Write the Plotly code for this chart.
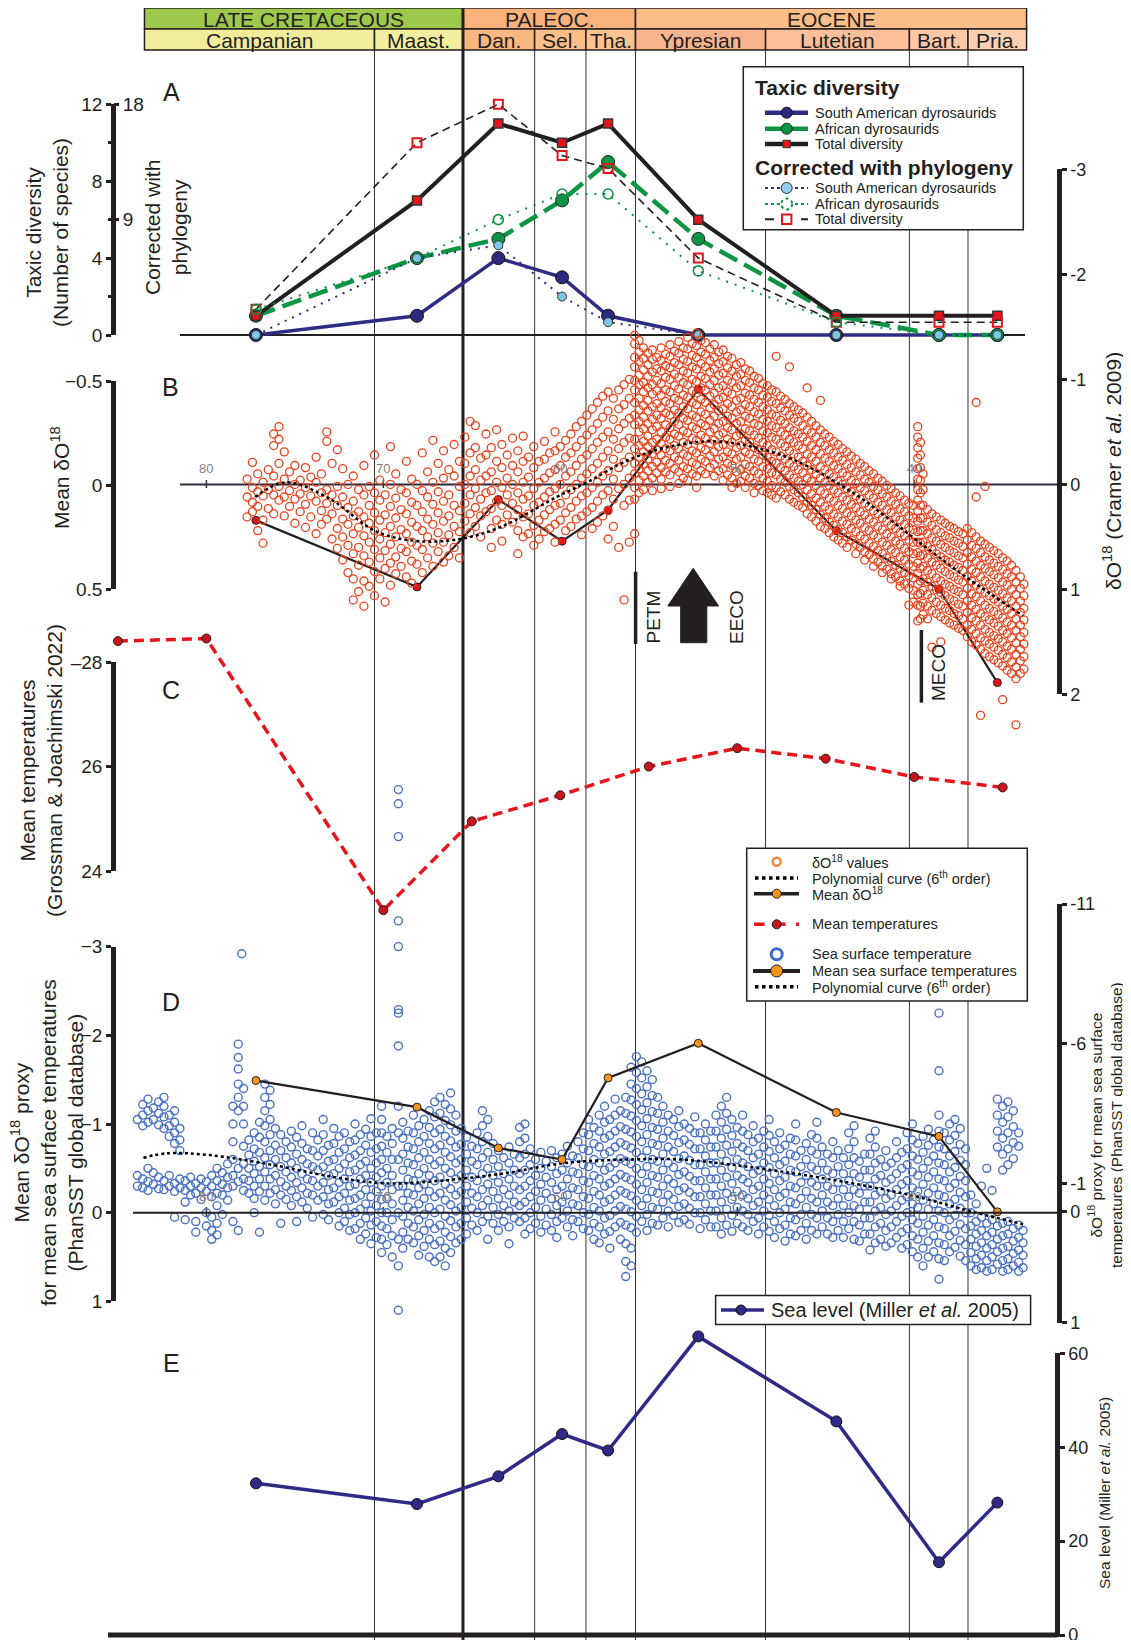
import plotly.graph_objects as go

W, H = 1131, 1640
OX, OY = 8, 8          # page (body) offset of the figure in the browser
FONT = "Liberation Sans, Arial, Helvetica, sans-serif"
INK = "#231f20"

# ---------------- chronostratigraphy (Ma) ----------------
epoch_names = ["LATE CRETACEOUS", "PALEOC.", "EOCENE"]
epoch_bounds = [83.5, 65.5, 55.75, 33.65]
epoch_colors = ["#9dc84c", "#fab27b", "#fcbe88"]
stage_names = ["Campanian", "Maast.", "Dan.", "Sel.", "Tha.", "Ypresian", "Lutetian", "Bart.", "Pria."]
stage_bounds = [83.5, 70.5, 65.5, 61.45, 58.55, 55.75, 48.4, 40.27, 36.96, 33.65]
stage_colors = ["#f2ed9a", "#f3ee9e", "#fbb780", "#fcbf89", "#fdc48f", "#f9b38d", "#fbbf9c", "#fcc8a6", "#fdd0b1"]
xaxis_ticks = [80, 70, 60, 50, 40]

# ---------------- A: taxic diversity ----------------
stage_age = [77.2, 68.1, 63.5, 59.9, 57.3, 52.2, 44.4, 38.6, 35.3]
sa_div = [0, 1, 4, 3, 1, 0, 0, 0, 0]
af_div = [1, 4, 5, 7, 9, 5, 1, 0, 0]
tot_div = [1, 7, 11, 10, 11, 6, 1, 1, 1]
sa_cor = [0, 6, 7, 3, 1, 0, 0, 0, 0]
af_cor = [2, 6, 9, 11, 11, 5, 1, 0, 0]
tot_cor = [2, 15, 18, 14, 13, 6, 1, 1, 1]

# ---------------- B: d18O (Cramer et al. 2009), columns (age, values) ----------------
b_cret = [
    (77.7, [-0.05, 0.12, 0.31]), (77.4, [-0.21, 0.03, 0.17, 0.26]), (77.1, [-0.1, 0.07, 0.21, 0.44]),
    (76.8, [-0.02, 0.11, 0.34, 0.56]), (76.5, [-0.14, 0.05, 0.23]), (76.2, [-0.48, -0.37, -0.08, 0.1, 0.28]),
    (75.9, [-0.55, -0.43, -0.2, 0.02, 0.15]), (75.6, [-0.31, -0.05, 0.12, 0.3]), (75.3, [-0.12, 0.06, 0.21]),
    (75.0, [-0.18, 0.0, 0.14, 0.37]), (74.7, [-0.04, 0.09, 0.26]), (74.4, [-0.16, 0.03, 0.19, 0.41]),
    (74.1, [-0.07, 0.11, 0.31]), (73.8, [-0.26, -0.02, 0.16, 0.47]), (73.5, [-0.1, 0.08, 0.25, 0.38]),
    (73.2, [-0.5, -0.41, 0.05, 0.18, 0.33]), (72.9, [-0.2, 0.1, 0.28, 0.52]), (72.6, [-0.33, 0.02, 0.2, 0.42, 0.61]),
    (72.3, [-0.15, 0.12, 0.33, 0.5, 0.72]), (72.0, [0.0, 0.22, 0.38, 0.58, 0.84]),
    (71.7, [-0.08, 0.16, 0.3, 0.47, 0.66, 0.9, 1.1]), (71.4, [0.05, 0.26, 0.41, 0.6, 0.77, 1.02]),
    (71.1, [-0.18, 0.1, 0.31, 0.49, 0.68, 0.92, 1.16]), (70.8, [0.02, 0.2, 0.37, 0.55, 0.74, 0.97]),
    (70.5, [-0.28, 0.08, 0.27, 0.44, 0.62, 0.83, 1.06]), (70.2, [-0.04, 0.15, 0.34, 0.52, 0.7, 0.9]),
    (69.9, [0.1, 0.29, 0.46, 0.63, 0.8, 1.12]), (69.6, [-0.36, 0.0, 0.21, 0.4, 0.57, 0.75, 0.96]),
    (69.3, [-0.1, 0.13, 0.32, 0.5, 0.69, 0.85]), (69.0, [0.05, 0.24, 0.43, 0.61, 0.78]),
    (68.7, [-0.22, 0.08, 0.28, 0.47, 0.64, 0.88]), (68.4, [-0.05, 0.17, 0.36, 0.55, 0.73, 0.94]),
    (68.1, [0.0, 0.2, 0.4, 0.58, 0.76]), (67.8, [-0.3, 0.06, 0.26, 0.44, 0.62, 0.84]),
    (67.5, [-0.12, 0.12, 0.33, 0.5, 0.7]), (67.2, [-0.42, -0.02, 0.19, 0.38, 0.56, 0.78]),
    (66.9, [-0.2, 0.07, 0.27, 0.46, 0.64]), (66.6, [-0.32, -0.06, 0.16, 0.35, 0.55, 0.74]),
    (66.3, [-0.14, 0.1, 0.3, 0.48, 0.68]), (66.0, [-0.38, -0.08, 0.2, 0.4, 0.6]),
    (65.7, [-0.22, 0.02, 0.25, 0.45, 0.7]),
]
b_paleo = [
    (65.4, [-0.45, -0.2, 0.0, 0.18, 0.35]), (65.1, [-0.6, -0.3, -0.08, 0.1, 0.28, 0.46]),
    (64.8, [-0.56, -0.35, -0.14, 0.04, 0.22, 0.4]), (64.5, [-0.25, -0.04, 0.14, 0.3, 0.5]),
    (64.2, [-0.48, -0.28, -0.08, 0.08, 0.26]), (63.9, [-0.35, -0.12, 0.06, 0.23, 0.42, 0.6]),
    (63.6, [-0.52, -0.22, -0.02, 0.16, 0.34]), (63.3, [-0.38, -0.16, 0.03, 0.2, 0.38, 0.54]),
    (63.0, [-0.28, -0.06, 0.1, 0.29]), (62.7, [-0.44, -0.18, 0.0, 0.18, 0.36]),
    (62.4, [-0.32, -0.12, 0.08, 0.24, 0.44, 0.66]), (62.1, [-0.46, -0.22, -0.02, 0.14, 0.31, 0.5]),
    (61.8, [-0.26, -0.07, 0.11, 0.28, 0.47]), (61.5, [-0.36, -0.16, 0.04, 0.2, 0.39, 0.58]),
    (61.2, [-0.22, -0.02, 0.17, 0.34, 0.52]), (60.9, [-0.41, -0.24, -0.06, 0.12, 0.29, 0.45]),
    (60.6, [-0.3, -0.11, 0.07, 0.24, 0.42]), (60.3, [-0.5, -0.32, -0.14, 0.04, 0.2, 0.38, 0.55]),
    (60.0, [-0.36, -0.18, 0.0, 0.18, 0.34]), (59.7, [-0.42, -0.26, -0.08, 0.1, 0.27, 0.44]),
    (59.4, [-0.48, -0.3, -0.12, 0.05, 0.22, 0.4]), (59.1, [-0.55, -0.36, -0.18, 0.0, 0.16, 0.33]),
    (58.8, [-0.6, -0.42, -0.24, -0.06, 0.11, 0.3, 0.48]), (58.5, [-0.66, -0.47, -0.28, -0.1, 0.08, 0.26]),
    (58.2, [-0.72, -0.52, -0.34, -0.15, 0.03, 0.22, 0.42]), (57.9, [-0.78, -0.58, -0.4, -0.2, -0.02, 0.16, 0.36]),
    (57.6, [-0.84, -0.64, -0.45, -0.26, -0.08, 0.1, 0.3]), (57.3, [-0.88, -0.7, -0.5, -0.32, -0.13, 0.06, 0.25, 0.52]),
    (57.0, [-0.82, -0.62, -0.43, -0.24, -0.05, 0.14, 0.4]), (56.7, [-0.9, -0.72, -0.53, -0.34, -0.16, 0.04, 0.6]),
    (56.4, [-0.95, -0.76, -0.58, -0.4, -0.21, 0.0, 0.2, 1.1]), (56.1, [-1.0, -0.82, -0.63, -0.44, -0.26, -0.06, 0.15, 0.55]),
]
b_eoc_early = [
    (55.80, [-1.42, -1.34, -1.21, -1.12, -0.99, -0.9, -0.78, -0.66, -0.57, -0.43, -0.34, -0.2, -0.1, 0.03, 0.14, 0.47]),
    (55.55, [-1.37, -1.26, -1.17, -1.04, -0.95, -0.82, -0.71, -0.6, -0.5, -0.37, -0.26, -0.15, -0.04, 0.08]),
    (55.30, [-1.3, -1.2, -1.09, -0.97, -0.88, -0.75, -0.64, -0.53, -0.41, -0.31, -0.19, -0.08, 0.05]),
    (55.05, [-1.25, -1.14, -1.03, -0.92, -0.8, -0.7, -0.58, -0.46, -0.36, -0.24, -0.13, -0.02]),
    (54.80, [-1.28, -1.19, -1.07, -0.95, -0.86, -0.74, -0.62, -0.52, -0.4, -0.29, -0.17, -0.06, 0.06]),
    (54.55, [-1.21, -1.1, -0.99, -0.89, -0.77, -0.66, -0.55, -0.43, -0.33, -0.21, -0.11]),
    (54.30, [-1.3, -1.18, -1.08, -0.96, -0.85, -0.73, -0.63, -0.5, -0.39, -0.28, -0.16, -0.05, 0.04]),
    (54.05, [-1.24, -1.13, -1.02, -0.9, -0.79, -0.68, -0.57, -0.45, -0.34, -0.23, -0.12]),
    (53.80, [-1.33, -1.22, -1.11, -1.0, -0.88, -0.77, -0.66, -0.54, -0.43, -0.32, -0.2, -0.09, 0.02]),
    (53.55, [-1.27, -1.16, -1.05, -0.94, -0.82, -0.71, -0.6, -0.48, -0.37, -0.26, -0.15]),
    (53.30, [-1.36, -1.25, -1.14, -1.02, -0.91, -0.8, -0.68, -0.57, -0.46, -0.34, -0.23, -0.12, -0.01]),
    (53.05, [-1.3, -1.19, -1.08, -0.97, -0.85, -0.74, -0.63, -0.51, -0.4, -0.29, -0.17, -0.06]),
    (52.80, [-1.4, -1.29, -1.17, -1.06, -0.95, -0.83, -0.72, -0.61, -0.49, -0.38, -0.27, -0.15, -0.04]),
    (52.55, [-1.34, -1.23, -1.12, -1.0, -0.89, -0.78, -0.66, -0.55, -0.44, -0.32, -0.21, -0.1]),
    (52.30, [-1.44, -1.32, -1.21, -1.1, -0.98, -0.87, -0.76, -0.64, -0.53, -0.42, -0.3, -0.19, -0.08, 0.03]),
    (52.05, [-1.37, -1.26, -1.15, -1.03, -0.92, -0.81, -0.69, -0.58, -0.47, -0.35, -0.24, -0.13]),
    (51.80, [-1.35, -1.24, -1.12, -1.01, -0.9, -0.78, -0.67, -0.56, -0.44, -0.33, -0.22, -0.1]),
    (51.55, [-1.29, -1.18, -1.07, -0.95, -0.84, -0.73, -0.61, -0.5, -0.39, -0.27, -0.16]),
    (51.30, [-1.33, -1.21, -1.1, -0.99, -0.87, -0.76, -0.65, -0.53, -0.42, -0.31, -0.19, -0.08]),
    (51.05, [-1.26, -1.15, -1.04, -0.92, -0.81, -0.7, -0.58, -0.47, -0.36, -0.24, -0.13]),
    (50.80, [-1.28, -1.17, -1.06, -0.94, -0.83, -0.72, -0.6, -0.49, -0.38, -0.26, -0.15, -0.04]),
    (50.55, [-1.22, -1.11, -0.99, -0.88, -0.77, -0.65, -0.54, -0.43, -0.31, -0.2, -0.09]),
    (50.30, [-1.2, -1.08, -0.97, -0.86, -0.74, -0.63, -0.52, -0.4, -0.29, -0.18, -0.06, 0.03]),
    (50.05, [-1.14, -1.03, -0.92, -0.8, -0.69, -0.58, -0.46, -0.35, -0.24, -0.12, -0.01]),
    (49.80, [-1.16, -1.05, -0.94, -0.82, -0.71, -0.6, -0.48, -0.37, -0.26, -0.14, -0.03]),
    (49.55, [-1.1, -0.99, -0.87, -0.76, -0.65, -0.53, -0.42, -0.31, -0.19, -0.08, 0.03]),
    (49.30, [-1.08, -0.97, -0.85, -0.74, -0.63, -0.51, -0.4, -0.29, -0.17, -0.06]),
    (49.05, [-1.03, -0.92, -0.81, -0.69, -0.58, -0.47, -0.35, -0.24, -0.13, -0.01, 0.08]),
    (48.80, [-1.01, -0.9, -0.78, -0.67, -0.56, -0.44, -0.33, -0.22, -0.1, 0.01]),
    (48.55, [-0.96, -0.85, -0.74, -0.62, -0.51, -0.4, -0.28, -0.17, -0.06, 0.06]),
    (48.30, [-0.94, -0.83, -0.71, -0.6, -0.49, -0.37, -0.26, -0.15, -0.03, 0.08]),
    (48.05, [-0.9, -0.79, -0.67, -0.56, -0.45, -0.33, -0.22, -0.11, 0.01, 0.1]),
    (47.80, [-1.22, -0.88, -0.77, -0.65, -0.54, -0.43, -0.31, -0.2, -0.09, 0.03, 0.13]),
    (47.55, [-0.84, -0.73, -0.61, -0.5, -0.39, -0.27, -0.16, -0.05, 0.07]),
    (47.30, [-0.81, -0.7, -0.58, -0.47, -0.36, -0.24, -0.13, -0.02, 0.1]),
    (47.05, [-1.12, -0.77, -0.66, -0.54, -0.43, -0.32, -0.2, -0.09, 0.02, 0.14]),
    (46.80, [-0.74, -0.63, -0.51, -0.4, -0.29, -0.17, -0.06, 0.05, 0.17]),
    (46.55, [-0.71, -0.6, -0.48, -0.37, -0.26, -0.14, -0.03, 0.08, 0.2]),
    (46.30, [-0.68, -0.56, -0.45, -0.34, -0.22, -0.11, 0.0, 0.12, 0.22]),
]
b_eoc_late = [
    (46.05, [-0.92, -0.64, -0.52, -0.41, -0.29, -0.18, -0.06, 0.05, 0.17, 0.28]),
    (45.80, [-0.6, -0.49, -0.37, -0.26, -0.14, -0.03, 0.09, 0.2, 0.31]),
    (45.55, [-0.56, -0.45, -0.33, -0.22, -0.1, 0.01, 0.13, 0.24, 0.35]),
    (45.30, [-0.8, -0.52, -0.4, -0.29, -0.17, -0.06, 0.06, 0.17, 0.29, 0.4]),
    (45.05, [-0.48, -0.37, -0.25, -0.14, -0.02, 0.09, 0.21, 0.32, 0.42]),
    (44.80, [-0.45, -0.33, -0.22, -0.1, 0.01, 0.13, 0.24, 0.36, 0.46]),
    (44.55, [-0.41, -0.3, -0.18, -0.07, 0.05, 0.16, 0.28, 0.39, 0.5]),
    (44.30, [-0.38, -0.26, -0.15, -0.03, 0.08, 0.2, 0.31, 0.43, 0.53]),
    (44.05, [-0.34, -0.23, -0.11, 0.0, 0.12, 0.23, 0.35, 0.46, 0.56]),
    (43.80, [-0.31, -0.19, -0.08, 0.04, 0.15, 0.27, 0.38, 0.5, 0.6]),
    (43.55, [-0.27, -0.16, -0.04, 0.07, 0.19, 0.3, 0.42, 0.53]),
    (43.30, [-0.24, -0.12, -0.01, 0.11, 0.22, 0.34, 0.45, 0.57, 0.66]),
    (43.05, [-0.2, -0.09, 0.03, 0.14, 0.26, 0.37, 0.49, 0.6]),
    (42.80, [-0.17, -0.05, 0.06, 0.18, 0.29, 0.41, 0.52, 0.64, 0.72]),
    (42.55, [-0.13, -0.02, 0.1, 0.21, 0.33, 0.44, 0.56, 0.67]),
    (42.30, [-0.1, 0.02, 0.13, 0.25, 0.36, 0.48, 0.59, 0.71, 0.78]),
    (42.05, [-0.06, 0.05, 0.17, 0.28, 0.4, 0.51, 0.63, 0.74]),
    (41.80, [-0.03, 0.09, 0.2, 0.32, 0.43, 0.55, 0.66, 0.78, 0.84]),
    (41.55, [0.01, 0.12, 0.24, 0.35, 0.47, 0.58, 0.7, 0.81]),
    (41.30, [0.04, 0.16, 0.27, 0.39, 0.5, 0.62, 0.73, 0.85, 0.9]),
    (41.05, [0.08, 0.19, 0.31, 0.42, 0.54, 0.65, 0.77, 0.88]),
    (40.80, [0.11, 0.23, 0.34, 0.46, 0.57, 0.69, 0.8, 0.92, 0.97]),
    (40.55, [0.15, 0.26, 0.38, 0.49, 0.61, 0.72, 0.84, 0.95]),
    (40.30, [0.18, 0.3, 0.41, 0.53, 0.64, 0.76, 0.87, 0.99, 1.15]),
    (40.05, [0.2, 0.32, 0.43, 0.55, 0.66, 0.78, 0.89, 1.01, 1.12]),
    (39.80, [-0.55, -0.45, -0.35, -0.25, -0.15, -0.05, 0.05, 0.15, 0.25, 0.35, 0.45, 0.55, 0.65, 0.75, 0.85, 0.95, 1.05, 1.15, 1.3]),
    (39.65, [-0.4, -0.28, -0.16, -0.04, 0.08, 0.2, 0.32, 0.44, 0.56, 0.68, 0.8, 0.92, 1.04, 1.16, 1.28]),
    (39.50, [-0.1, 0.05, 0.2, 0.32, 0.44, 0.55, 0.67, 0.78, 0.9, 1.01, 1.13, 1.24]),
    (39.25, [0.24, 0.36, 0.47, 0.59, 0.7, 0.82, 0.93, 1.05, 1.16, 1.28]),
    (39.00, [0.28, 0.39, 0.51, 0.62, 0.74, 0.85, 0.97, 1.08, 1.2, 1.55]),
    (38.75, [0.31, 0.43, 0.54, 0.66, 0.77, 0.89, 1.0, 1.12, 1.23]),
    (38.50, [0.34, 0.46, 0.57, 0.69, 0.8, 0.92, 1.03, 1.15, 1.26, 1.5]),
    (38.25, [0.37, 0.49, 0.6, 0.72, 0.83, 0.95, 1.06, 1.18, 1.29]),
    (38.00, [0.4, 0.51, 0.63, 0.74, 0.86, 0.97, 1.09, 1.2, 1.32]),
    (37.75, [0.42, 0.54, 0.65, 0.77, 0.88, 1.0, 1.11, 1.23, 1.34]),
    (37.50, [0.45, 0.56, 0.68, 0.79, 0.91, 1.02, 1.14, 1.25, 1.37]),
    (37.25, [0.47, 0.59, 0.7, 0.82, 0.93, 1.05, 1.16, 1.28, 1.39]),
    (37.00, [0.42, 0.53, 0.65, 0.76, 0.88, 0.99, 1.11, 1.22, 1.34, 1.45]),
    (36.75, [0.46, 0.58, 0.69, 0.81, 0.92, 1.04, 1.15, 1.27, 1.38, 1.5]),
    (36.50, [-0.78, 0.12, 0.5, 0.61, 0.73, 0.84, 0.96, 1.07, 1.19, 1.3, 1.42, 1.53]),
    (36.25, [0.54, 0.65, 0.77, 0.88, 1.0, 1.11, 1.23, 1.34, 1.46, 1.57, 2.2]),
    (36.00, [0.02, 0.57, 0.69, 0.8, 0.92, 1.03, 1.15, 1.26, 1.38, 1.49, 1.61]),
    (35.75, [0.6, 0.72, 0.83, 0.95, 1.06, 1.18, 1.29, 1.41, 1.52, 1.64]),
    (35.50, [0.63, 0.75, 0.86, 0.98, 1.09, 1.21, 1.32, 1.44, 1.55, 1.67]),
    (35.25, [0.66, 0.78, 0.89, 1.01, 1.12, 1.24, 1.35, 1.47, 1.58, 1.7]),
    (35.00, [0.7, 0.81, 0.93, 1.04, 1.16, 1.27, 1.39, 1.5, 1.62, 1.73, 2.05]),
    (34.75, [0.73, 0.85, 0.96, 1.08, 1.19, 1.31, 1.42, 1.54, 1.65, 1.77]),
    (34.50, [0.77, 0.88, 1.0, 1.11, 1.23, 1.34, 1.46, 1.57, 1.69, 1.8]),
    (34.25, [0.82, 0.93, 1.05, 1.16, 1.28, 1.39, 1.51, 1.62, 1.74, 1.85, 2.29]),
    (34.00, [0.88, 0.99, 1.11, 1.22, 1.34, 1.45, 1.57, 1.68, 1.8]),
    (33.80, [0.95, 1.06, 1.18, 1.29, 1.41, 1.52, 1.64, 1.76]),
]
b_poly_age = [77.24, 75.52, 73.1, 70.38, 68.02, 65.65, 63.29, 60.21, 58.38, 56.19, 53.83, 51.35, 49.22, 46.74, 43.37, 41.42, 39.41, 37.1, 33.85]
b_poly_val = [0.12, -0.02, 0.13, 0.45, 0.54, 0.52, 0.4, 0.12, -0.03, -0.23, -0.36, -0.41, -0.36, -0.23, 0.09, 0.33, 0.59, 0.88, 1.25]
b_mean = [0.17, 0.49, 0.07, 0.27, 0.12, -0.46, 0.22, 0.5, 0.95]

# ---------------- C: mean temperatures ----------------
c_age = [85, 80, 70, 65, 60, 55, 50, 45, 40, 35]
c_temp = [28.4, 28.45, 23.25, 24.95, 25.45, 26.0, 26.35, 26.15, 25.8, 25.6]

# ---------------- D: PhanSST d18O proxy, columns (age, values) ----------------
d_cret = [
    (83.9, [-1.05, -0.42, -0.3]), (83.6, [-1.22, -1.1, -0.98, -0.38, -0.28]),
    (83.3, [-1.28, -1.15, -1.02, -0.5, -0.35, -0.25]), (83.0, [-1.18, -1.05, -0.45, -0.32]),
    (82.7, [-1.25, -1.12, -0.99, -0.4, -0.27]), (82.4, [-1.3, -1.2, -1.08, -0.95, -0.36, -0.26]),
    (82.1, [-1.1, -0.98, -0.86, -0.42, -0.3]), (81.8, [-1.15, -1.02, -0.9, -0.78, -0.33, -0.24, 0.05]),
    (81.5, [-0.95, -0.82, -0.7, -0.38, -0.28]), (81.2, [-0.36, -0.25, -0.12, 0.08]),
    (80.9, [-0.4, -0.3, -0.2]), (80.6, [-0.33, -0.22, 0.1, 0.22]), (80.3, [-0.38, -0.28, -0.15]),
    (80.0, [-0.35, -0.24, 0.0, 0.15]), (79.7, [-0.42, -0.3, -0.18, 0.05, 0.2, 0.3]),
    (79.4, [-0.5, -0.36, -0.22, -0.08, 0.12, 0.25]), (79.1, [-0.45, -0.32, -0.2, 0.02]),
    (78.8, [-0.55, -0.4, -0.28, -0.14]), (78.5, [-1.2, -1.0, -0.8, -0.6, -0.42, -0.3, 0.1]),
    (78.2, [-1.9, -1.75, -1.62, -1.45, -1.3, -1.15, -0.5, -0.35, 0.2]), (78.0, [-2.92]),
    (77.9, [-1.4, -1.2, -1.0, -0.75, -0.55, -0.38, -0.25]), (77.6, [-0.82, -0.65, -0.5, -0.36, -0.22]),
    (77.3, [-0.9, -0.72, -0.58, -0.44, -0.3, -0.16, 0.0]), (77.0, [-1.02, -0.85, -0.68, -0.52, -0.38, -0.24, 0.22]),
    (76.7, [-1.45, -1.3, -1.15, -0.98, -0.8, -0.62, -0.46, -0.3, -0.14]),
    (76.4, [-1.38, -1.22, -1.05, -0.88, -0.7, -0.54, -0.38, -0.22]),
    (76.1, [-0.95, -0.76, -0.6, -0.42, -0.26, -0.1]), (75.8, [-0.88, -0.7, -0.52, -0.35, -0.2, 0.12]),
    (75.5, [-0.8, -0.62, -0.46, -0.3, -0.15]), (75.2, [-0.92, -0.74, -0.56, -0.4, -0.25, -0.08]),
    (74.9, [-0.85, -0.66, -0.5, -0.34, -0.18, 0.1]), (74.6, [-0.98, -0.78, -0.6, -0.44, -0.28, -0.12]),
    (74.3, [-0.72, -0.55, -0.38, -0.22, -0.05]), (74.0, [-0.9, -0.7, -0.52, -0.36, -0.2, 0.05]),
    (73.7, [-0.82, -0.64, -0.48, -0.3, -0.14]), (73.4, [-1.05, -0.88, -0.7, -0.52, -0.34, -0.18, 0.02]),
    (73.1, [-0.76, -0.58, -0.42, -0.26, -0.1, 0.08]), (72.8, [-0.95, -0.78, -0.6, -0.44, -0.28, -0.12]),
    (72.5, [-0.86, -0.68, -0.5, -0.34, -0.18, 0.0, 0.15]), (72.2, [-0.9, -0.72, -0.55, -0.38, -0.22, -0.05, 0.1]),
    (71.9, [-0.8, -0.62, -0.46, -0.3, -0.14, 0.02, 0.2]), (71.6, [-1.0, -0.82, -0.65, -0.48, -0.32, -0.16, 0.0, 0.18]),
    (71.3, [-0.88, -0.7, -0.54, -0.38, -0.2, -0.04, 0.12, 0.3]), (71.0, [-0.94, -0.76, -0.58, -0.42, -0.26, -0.1, 0.06, 0.24]),
    (70.7, [-1.06, -0.86, -0.68, -0.5, -0.34, -0.18, -0.02, 0.14, 0.35]),
    (70.4, [-0.9, -0.72, -0.56, -0.4, -0.24, -0.08, 0.1, 0.28]),
    (70.1, [-1.2, -1.05, -0.9, -0.75, -0.6, -0.45, -0.3, -0.15, 0.0, 0.15, 0.3, 0.45]),
    (69.8, [-0.86, -0.68, -0.5, -0.34, -0.16, 0.0, 0.18, 0.36]),
    (69.5, [-0.95, -0.78, -0.6, -0.42, -0.26, -0.1, 0.08, 0.26, 0.5]),
    (69.15, [-4.77, -4.61, -4.24, -3.29, -3.0, -2.29, -2.25, -1.88, -1.2, -0.9, -0.6, -0.3, 0.0, 0.3, 0.6, 1.1]),
    (68.9, [-1.02, -0.84, -0.66, -0.48, -0.3, -0.14, 0.04, 0.22, 0.4]),
    (68.6, [-0.92, -0.74, -0.56, -0.38, -0.22, -0.06, 0.12, 0.3]),
    (68.3, [-1.1, -0.9, -0.72, -0.54, -0.36, -0.2, -0.02, 0.16, 0.34]),
    (68.0, [-0.98, -0.8, -0.62, -0.44, -0.28, -0.1, 0.08, 0.26, 0.48]),
    (67.7, [-1.05, -0.86, -0.68, -0.5, -0.32, -0.16, 0.02, 0.2, 0.38]),
    (67.4, [-1.15, -0.96, -0.78, -0.6, -0.42, -0.24, -0.06, 0.12, 0.3, 0.5]),
    (67.1, [-1.25, -1.08, -0.9, -0.72, -0.54, -0.36, -0.18, 0.0, 0.18, 0.36, 0.55]),
    (66.8, [-1.3, -1.12, -0.94, -0.76, -0.58, -0.4, -0.22, -0.04, 0.14, 0.32, 0.5]),
    (66.5, [-1.22, -1.04, -0.86, -0.68, -0.5, -0.32, -0.14, 0.04, 0.22, 0.4, 0.6]),
    (66.2, [-1.35, -1.17, -0.99, -0.81, -0.63, -0.45, -0.27, -0.09, 0.09, 0.27, 0.45]),
    (65.9, [-1.1, -0.92, -0.74, -0.56, -0.38, -0.2, -0.02, 0.16, 0.34]),
    (65.6, [-0.95, -0.77, -0.6, -0.42, -0.24, -0.06, 0.12, 0.3]),
]
d_paleo = [
    (65.3, [-0.85, -0.66, -0.48, -0.3, -0.12, 0.06, 0.24]), (65.0, [-0.75, -0.58, -0.4, -0.22, -0.05, 0.14]),
    (64.7, [-0.9, -0.72, -0.54, -0.36, -0.18, 0.0, 0.2]), (64.4, [-1.15, -0.98, -0.8, -0.62, -0.44, -0.26, -0.08, 0.1]),
    (64.1, [-1.05, -0.86, -0.68, -0.5, -0.32, -0.14, 0.04, 0.3]), (63.8, [-0.78, -0.6, -0.42, -0.24, -0.06, 0.12]),
    (63.5, [-0.7, -0.52, -0.34, -0.16, 0.02, 0.2]), (63.2, [-0.62, -0.44, -0.26, -0.08, 0.1]),
    (62.9, [-0.74, -0.56, -0.38, -0.2, -0.02, 0.16, 0.35]), (62.6, [-0.66, -0.48, -0.3, -0.12, 0.06]),
    (62.3, [-0.96, -0.8, -0.62, -0.44, -0.26, -0.08, 0.1]), (62.0, [-1.0, -0.84, -0.66, -0.48, -0.3, -0.12, 0.06, 0.24]),
    (61.7, [-0.72, -0.54, -0.36, -0.18, 0.0, 0.18]), (61.4, [-0.6, -0.42, -0.24, -0.06, 0.12]),
    (61.1, [-0.68, -0.5, -0.32, -0.14, 0.04, 0.22]), (60.8, [-0.58, -0.4, -0.22, -0.04, 0.14]),
    (60.5, [-0.7, -0.52, -0.34, -0.16, 0.02, 0.2]), (60.2, [-0.62, -0.44, -0.26, -0.08, 0.1, 0.28]),
    (59.9, [-0.66, -0.48, -0.3, -0.12, 0.06]), (59.6, [-0.75, -0.56, -0.38, -0.2, -0.02, 0.16]),
    (59.3, [-0.64, -0.46, -0.28, -0.1, 0.08, 0.26]), (59.0, [-0.8, -0.62, -0.44, -0.26, -0.08, 0.1]),
    (58.7, [-0.9, -0.72, -0.54, -0.36, -0.18, 0.0, 0.18]), (58.4, [-1.05, -0.88, -0.7, -0.52, -0.34, -0.16, 0.02, 0.2]),
    (58.1, [-0.96, -0.78, -0.6, -0.42, -0.24, -0.06, 0.12, 0.3]),
    (57.8, [-1.1, -0.92, -0.74, -0.56, -0.38, -0.2, -0.02, 0.16, 0.34]),
    (57.5, [-1.2, -1.02, -0.84, -0.66, -0.48, -0.3, -0.12, 0.06, 0.24]),
    (57.2, [-1.05, -0.87, -0.69, -0.51, -0.33, -0.15, 0.03, 0.21, 0.4]),
    (56.9, [-1.28, -1.1, -0.92, -0.74, -0.56, -0.38, -0.2, -0.02, 0.16]),
    (56.6, [-1.15, -0.97, -0.79, -0.61, -0.43, -0.25, -0.07, 0.11, 0.3]),
    (56.3, [-1.3, -1.12, -0.94, -0.76, -0.58, -0.4, -0.22, -0.04, 0.14, 0.35, 0.55, 0.72]),
    (56.0, [-1.64, -1.45, -1.27, -1.09, -0.91, -0.73, -0.55, -0.37, -0.19, -0.01, 0.17, 0.4, 0.6]),
]
d_eoc_early = [
    (55.7, [-1.76, -1.58, -1.4, -1.22, -1.04, -0.86, -0.68, -0.5, -0.32, -0.14, 0.04, 0.22]),
    (55.4, [-1.7, -1.52, -1.34, -1.16, -0.98, -0.8, -0.62, -0.44, -0.26, -0.08, 0.1]),
    (55.1, [-1.6, -1.42, -1.24, -1.06, -0.88, -0.7, -0.52, -0.34, -0.16, 0.02, 0.2]),
    (54.8, [-1.5, -1.32, -1.14, -0.96, -0.78, -0.6, -0.42, -0.24, -0.06, 0.12]),
    (54.5, [-1.3, -1.12, -0.94, -0.76, -0.58, -0.4, -0.22, -0.04, 0.14]),
    (54.2, [-1.2, -1.02, -0.84, -0.66, -0.48, -0.3, -0.12, 0.06]),
    (53.9, [-1.1, -0.92, -0.74, -0.56, -0.38, -0.2, -0.02, 0.16]),
    (53.6, [-1.05, -0.87, -0.69, -0.51, -0.33, -0.15, 0.03]),
    (53.3, [-1.15, -0.97, -0.79, -0.61, -0.43, -0.25, -0.07, 0.11]),
    (53.0, [-1.0, -0.82, -0.64, -0.46, -0.28, -0.1, 0.08]),
    (52.7, [-0.95, -0.77, -0.59, -0.41, -0.23, -0.05, 0.13]),
    (52.4, [-1.08, -0.9, -0.72, -0.54, -0.36, -0.18, 0.0]),
    (52.1, [-0.9, -0.72, -0.54, -0.36, -0.18, 0.0, 0.18]),
    (51.8, [-1.0, -0.82, -0.64, -0.46, -0.28, -0.1, 0.08]),
    (51.5, [-0.92, -0.74, -0.56, -0.38, -0.2, -0.02, 0.16]),
    (51.2, [-1.1, -0.92, -0.74, -0.56, -0.38, -0.2, -0.02, 0.16]),
    (50.9, [-1.2, -1.02, -0.84, -0.66, -0.48, -0.3, -0.12, 0.06, 0.24]),
    (50.6, [-1.3, -1.12, -0.94, -0.76, -0.58, -0.4, -0.22, -0.04, 0.14]),
    (50.3, [-1.05, -0.87, -0.69, -0.51, -0.33, -0.15, 0.03, 0.21]),
    (50.0, [-0.96, -0.78, -0.6, -0.42, -0.24, -0.06, 0.12]),
    (49.7, [-1.1, -0.92, -0.74, -0.56, -0.38, -0.2, -0.02, 0.16]),
    (49.4, [-0.88, -0.7, -0.52, -0.34, -0.16, 0.02, 0.2]),
    (49.1, [-0.98, -0.8, -0.62, -0.44, -0.26, -0.08, 0.1]),
    (48.8, [-0.84, -0.66, -0.48, -0.3, -0.12, 0.06, 0.24]),
    (48.5, [-0.92, -0.74, -0.56, -0.38, -0.2, -0.02, 0.16]),
    (48.2, [-1.05, -0.87, -0.69, -0.51, -0.33, -0.15, 0.03, 0.21]),
    (47.9, [-0.8, -0.62, -0.44, -0.26, -0.08, 0.1, 0.28]),
    (47.6, [-0.9, -0.72, -0.54, -0.36, -0.18, 0.0, 0.18]),
    (47.3, [-0.76, -0.58, -0.4, -0.22, -0.04, 0.14, 0.32]),
    (47.0, [-0.84, -0.66, -0.48, -0.3, -0.12, 0.06, 0.24]),
    (46.7, [-1.0, -0.82, -0.64, -0.46, -0.28, -0.1, 0.08, 0.26]),
    (46.4, [-0.7, -0.52, -0.34, -0.16, 0.02, 0.2]),
]
d_eoc_late = [
    (46.1, [-0.78, -0.6, -0.42, -0.24, -0.06, 0.12, 0.3]), (45.8, [-0.88, -0.7, -0.52, -0.34, -0.16, 0.02, 0.2]),
    (45.5, [-1.02, -0.84, -0.66, -0.48, -0.3, -0.12, 0.06, 0.24]), (45.2, [-0.74, -0.56, -0.38, -0.2, -0.02, 0.16]),
    (44.9, [-0.66, -0.48, -0.3, -0.12, 0.06, 0.24]), (44.6, [-0.8, -0.62, -0.44, -0.26, -0.08, 0.1, 0.28]),
    (44.3, [-0.7, -0.52, -0.34, -0.16, 0.02, 0.2]), (44.0, [-0.62, -0.44, -0.26, -0.08, 0.1, 0.28]),
    (43.7, [-0.9, -0.72, -0.54, -0.36, -0.18, 0.0, 0.18]), (43.4, [-0.98, -0.8, -0.62, -0.44, -0.26, -0.08, 0.1, 0.3]),
    (43.1, [-0.58, -0.4, -0.22, -0.04, 0.14, 0.32]), (42.8, [-0.66, -0.48, -0.3, -0.12, 0.06, 0.24]),
    (42.5, [-0.84, -0.66, -0.48, -0.3, -0.12, 0.06, 0.24, 0.42]), (42.2, [-0.92, -0.74, -0.56, -0.38, -0.2, -0.02, 0.16, 0.34]),
    (41.9, [-0.6, -0.42, -0.24, -0.06, 0.12, 0.3]), (41.6, [-0.7, -0.52, -0.34, -0.16, 0.02, 0.2, 0.38]),
    (41.3, [-0.56, -0.38, -0.2, -0.02, 0.16, 0.34]), (41.0, [-0.8, -0.62, -0.44, -0.26, -0.08, 0.1, 0.28]),
    (40.7, [-0.68, -0.5, -0.32, -0.14, 0.04, 0.22, 0.4]), (40.4, [-0.9, -0.72, -0.54, -0.36, -0.18, 0.0, 0.18, 0.36]),
    (40.1, [-1.0, -0.82, -0.64, -0.46, -0.28, -0.1, 0.08, 0.26, 0.44]), (39.8, [-0.78, -0.6, -0.42, -0.24, -0.06, 0.12, 0.3, 0.5]),
    (39.5, [-0.86, -0.68, -0.5, -0.32, -0.14, 0.04, 0.22, 0.4, 0.6]), (39.2, [-0.94, -0.76, -0.58, -0.4, -0.22, -0.04, 0.14, 0.32, 0.5]),
    (38.9, [-0.82, -0.64, -0.46, -0.28, -0.1, 0.08, 0.26, 0.44]),
    (38.6, [-2.25, -1.6, -1.1, -0.92, -0.74, -0.56, -0.38, -0.2, -0.02, 0.16, 0.34, 0.52, 0.75]),
    (38.3, [-0.9, -0.72, -0.54, -0.36, -0.18, 0.0, 0.18, 0.36, 0.54]), (38.0, [-1.0, -0.82, -0.64, -0.46, -0.28, -0.1, 0.08, 0.26, 0.44]),
    (37.7, [-1.05, -0.87, -0.69, -0.51, -0.33, -0.15, 0.03, 0.21, 0.39]), (37.4, [-0.95, -0.77, -0.59, -0.41, -0.23, -0.05, 0.13, 0.31, 0.49]),
    (37.1, [-0.72, -0.54, -0.36, -0.18, 0.0, 0.18, 0.36, 0.54]), (36.8, [-0.2, 0.0, 0.15, 0.3, 0.45, 0.6]),
    (36.5, [-0.1, 0.1, 0.24, 0.38, 0.52, 0.64]), (36.2, [-0.3, 0.05, 0.2, 0.34, 0.48, 0.62]),
    (35.9, [-0.5, 0.12, 0.26, 0.4, 0.54, 0.66]), (35.6, [-0.25, 0.08, 0.22, 0.36, 0.5, 0.64]),
    (35.3, [-1.28, -1.1, -0.92, -0.74, 0.15, 0.3, 0.44, 0.58]), (35.0, [-1.2, -1.02, -0.84, -0.66, -0.48, 0.12, 0.26, 0.4, 0.54, 0.66]),
    (34.7, [-1.25, -1.08, -0.9, -0.72, -0.54, 0.1, 0.24, 0.38, 0.52, 0.64]), (34.4, [-1.15, -0.97, -0.79, -0.61, 0.18, 0.32, 0.46, 0.6]),
    (34.1, [-0.9, -0.75, 0.14, 0.28, 0.42, 0.56, 0.66]), (33.85, [0.2, 0.34, 0.48, 0.62]),
]
d_poly_age = [83.56, 82.2, 79.84, 76.29, 72.75, 69.79, 66.83, 63.29, 59.74, 56.19, 53.24, 50.28, 46.73, 43.19, 39.64, 36.69, 33.85]
d_poly_val = [-0.62, -0.67, -0.65, -0.54, -0.4, -0.33, -0.36, -0.44, -0.56, -0.6, -0.6, -0.54, -0.44, -0.32, -0.17, -0.01, 0.13]
d_mean = [-1.49, -1.19, -0.73, -0.6, -1.52, -1.91, -1.13, -0.86, -0.01]

# ---------------- E: sea level ----------------
sea_level = [32.3, 27.9, 33.8, 42.8, 39.3, 63.6, 45.5, 15.5, 28.2]

# =============== layout helpers (all positions given in reference-page pixels) ===============
X80, PXMA = 206.4, 17.695          # page pixel of 80 Ma, pixels per Myr
x_range = [80 + (X80 - OX) / PXMA, 80 - (W - (X80 - OX)) / PXMA]


def PX(x):
    return (x - OX) / W


def PY(y):
    return 1 - (y - OY) / H


def flat(*groups):
    xs, ys = [], []
    for g in groups:
        for a, vals in g:
            xs += [a] * len(vals)
            ys += vals
    return xs, ys


def lin(s):
    va, pa, vb, pb = s
    k = (pb - pa) / (vb - va)
    return lambda p: va + (p - pa) / k


# scale: (value_a, page_pixel_a, value_b, page_pixel_b)
scales = {
    "A": (0, 335, 12, 104.3), "Ac": (0, 335, 18, 104.3),
    "Bl": (0, 485, 0.5, 589), "Br": (0, 484.4, 1, 589.4),
    "C": (24, 871, 28, 662), "Dl": (0, 1212.7, 1, 1301.4),
    "Dr": (-11, 904, 0, 1211.5), "E": (0, 1635, 60, 1353.3),
}
data_ids = {"A": "y", "Ac": "y2", "Bl": "y3", "Br": "y4", "C": "y5", "Dl": "y6", "E": "y7"}

layout = dict(width=W, height=H, margin=dict(l=0, r=0, t=0, b=0, pad=0, autoexpand=False),
              paper_bgcolor="white", plot_bgcolor="rgba(0,0,0,0)", showlegend=False,
              font=dict(family=FONT, color=INK), hovermode=False)
layout["xaxis"] = dict(domain=[0, 1], range=x_range, visible=False, fixedrange=True, automargin=False)
for key, yid in data_ids.items():
    f = lin(scales[key])
    name = "yaxis" if yid == "y" else "yaxis" + yid[1:]
    layout[name] = dict(domain=[0, 1], range=[f(H + OY), f(OY)], visible=False, anchor="x",
                        fixedrange=True, automargin=False)

traces = []

disp = [
    # key, id, ptop, pbot, xpos, side, tickvals, ticktext, showline, size, minor
    ("A", 8, 104.3, 335, 113, "left", [0, 4, 8, 12], ["0", "4", "8", "12"], True, 19, [2, 6, 10]),
    ("Ac", 9, 104.3, 335, 113, "right", [9, 18], ["9", "18"], False, 19, None),
    ("Bl", 10, 381, 589, 113, "left", [-0.5, 0, 0.5], ["\u22120.5", "0", "0.5"], True, 19, None),
    ("Br", 11, 169.4, 694.4, 1059, "right", [-3, -2, -1, 0, 1, 2], ["-3", "-2", "-1", "0", "1", "2"], True, 18, None),
    ("C", 12, 662, 871, 113, "left", [24, 26, 28], ["24", "26", "\u201328"], True, 19, None),
    ("Dl", 13, 946.6, 1301.4, 113, "left", [-3, -2, -1, 0, 1], ["\u22123", "\u22122", "\u22121", "0", "1"], True, 19, None),
    ("Dr", 14, 904, 1322.5, 1059, "right", [-11, -6, -1, 0, lin(scales["Dr"])(1322.5)], ["-11", "-6", "-1", "0", "1"], True, 18, None),
    ("E", 15, 1353.3, 1637, 1057, "right", [0, 20, 40, 60], ["0", "20", "40", "60"], True, 18, None),
]
for key, n, ptop, pbot, xpos, side, tv, tt, showline, fs, minor in disp:
    f = lin(scales[key])
    ax = dict(domain=[PY(pbot), PY(ptop)], range=[f(pbot), f(ptop)], anchor="free", position=PX(xpos),
              side=side, showline=showline, linewidth=4.5, linecolor=INK, ticks="outside", ticklen=5,
              tickwidth=3, tickcolor=INK, tickvals=tv, ticktext=tt, showgrid=False, zeroline=False,
              tickfont=dict(family=FONT, size=fs, color=INK), fixedrange=True, automargin=False)
    if minor:
        ax["minor"] = dict(tickvals=minor, ticks="outside", ticklen=3, tickwidth=2.5, tickcolor=INK, showgrid=False)
    layout["yaxis%d" % n] = ax
    traces.append(go.Scatter(x=[None], y=[None], xaxis="x", yaxis="y%d" % n, showlegend=False, hoverinfo="skip"))

# =============== traces ===============
bx, by = flat(b_cret, b_paleo, b_eoc_early, b_eoc_late)
traces.append(go.Scatter(x=bx, y=by, yaxis="y4", mode="markers",
                         marker=dict(symbol="circle-open", size=8, color="#e8421c", line=dict(width=1.3))))
dx, dy = flat(d_cret, d_paleo, d_eoc_early, d_eoc_late)
traces.append(go.Scatter(x=dx, y=dy, yaxis="y6", mode="markers",
                         marker=dict(symbol="circle-open", size=8, color="#4a70c1", line=dict(width=1.4))))
traces.append(go.Scatter(x=b_poly_age, y=b_poly_val, yaxis="y4", mode="lines",
                         line=dict(color="black", width=2.5, dash="dot", shape="spline")))
traces.append(go.Scatter(x=d_poly_age, y=d_poly_val, yaxis="y6", mode="lines",
                         line=dict(color="black", width=2.5, dash="dot", shape="spline")))
traces.append(go.Scatter(x=stage_age, y=b_mean, yaxis="y3", mode="lines+markers",
                         line=dict(color=INK, width=2.2),
                         marker=dict(size=8, color="#e3141b", line=dict(color=INK, width=1))))
traces.append(go.Scatter(x=stage_age, y=d_mean, yaxis="y6", mode="lines+markers",
                         line=dict(color=INK, width=2.2),
                         marker=dict(size=8, color="#f7941d", line=dict(color=INK, width=1))))
traces.append(go.Scatter(x=c_age, y=c_temp, yaxis="y5", mode="lines+markers",
                         line=dict(color="#e8141c", width=3.5, dash="10px,6px"),
                         marker=dict(size=9, color="#c8151b", line=dict(color=INK, width=1))))
# A: corrected first (thin), then observed
traces.append(go.Scatter(x=stage_age, y=tot_cor, yaxis="y2", mode="lines+markers",
                         line=dict(color=INK, width=1.6, dash="8px,5px"),
                         marker=dict(symbol="square-open", size=9, color="#e3141b", line=dict(width=2))))
traces.append(go.Scatter(x=stage_age, y=af_cor, yaxis="y2", mode="lines+markers",
                         line=dict(color="#0b9444", width=2, dash="2px,7px"),
                         marker=dict(symbol="circle-open", size=10, color="#0b9444", line=dict(width=1.6))))
traces.append(go.Scatter(x=stage_age, y=sa_cor, yaxis="y2", mode="lines+markers",
                         line=dict(color="#2e2d84", width=2, dash="2px,6px"),
                         marker=dict(size=9, color="#7cc8e6", line=dict(color="#333", width=1))))
traces.append(go.Scatter(x=stage_age, y=sa_div, yaxis="y", mode="lines+markers",
                         line=dict(color="#2e2d84", width=3.5),
                         marker=dict(size=13, color="#2b2a7c", line=dict(color="#111", width=1))))
traces.append(go.Scatter(x=stage_age, y=af_div, yaxis="y", mode="lines+markers",
                         line=dict(color="#0b9444", width=4.5, dash="20px,8px"),
                         marker=dict(size=13, color="#0b9444", line=dict(color="#222", width=1))))
traces.append(go.Scatter(x=stage_age, y=tot_div, yaxis="y", mode="lines+markers",
                         line=dict(color=INK, width=4),
                         marker=dict(symbol="square", size=9, color="#e3141b", line=dict(color="#333", width=1.5))))
traces.append(go.Scatter(x=stage_age, y=sea_level, yaxis="y7", mode="lines+markers",
                         line=dict(color="#2e2a86", width=3.5),
                         marker=dict(size=11, color="#2e2a86", line=dict(color="#111", width=1))))

# =============== shapes & annotations ===============
shapes, ann = [], []


def txt(x, y, s, size, anchor="center", angle=0, color=INK, xref="paper"):
    ann.append(dict(x=x if xref == "x" else PX(x), y=PY(y), xref=xref, yref="paper", text=s, showarrow=False,
                    font=dict(family=FONT, size=size, color=color), xanchor=anchor, yanchor="middle",
                    textangle=angle, align="center"))


def pline(x0, y0, x1, y1, color=INK, width=1, dash=None, layer="above"):
    ln = dict(color=color, width=width)
    if dash:
        ln["dash"] = dash
    shapes.append(dict(type="line", xref="paper", yref="paper", x0=PX(x0), y0=PY(y0), x1=PX(x1), y1=PY(y1),
                       line=ln, layer=layer))


def circ(cx, cy, d, fill, color=INK, width=1, dash=None):
    ln = dict(color=color, width=width)
    if dash:
        ln["dash"] = dash
    shapes.append(dict(type="circle", xref="paper", yref="paper", x0=PX(cx - d / 2), x1=PX(cx + d / 2),
                       y0=PY(cy + d / 2), y1=PY(cy - d / 2), fillcolor=fill, line=ln, layer="above"))


def rect(x0, y0, x1, y1, fill, color=INK, width=1):
    shapes.append(dict(type="rect", xref="paper", yref="paper", x0=PX(x0), x1=PX(x1), y0=PY(y1), y1=PY(y0),
                       fillcolor=fill, line=dict(color=color, width=width), layer="above"))


# vertical stage lines
for b in stage_bounds[1:-1]:
    shapes.append(dict(type="line", xref="x", yref="paper", x0=b, x1=b, y0=PY(1640), y1=PY(50),
                       line=dict(color="#333" if b != 65.5 else INK, width=3 if b == 65.5 else 1), layer="below"))

# header
for i, nm in enumerate(epoch_names):
    shapes.append(dict(type="rect", xref="x", yref="paper", x0=epoch_bounds[i], x1=epoch_bounds[i + 1],
                       y0=PY(29), y1=PY(8), fillcolor=epoch_colors[i], line=dict(color=INK, width=1.5), layer="above"))
    txt((epoch_bounds[i] + epoch_bounds[i + 1]) / 2, 19, nm, 21, xref="x")
for i, nm in enumerate(stage_names):
    shapes.append(dict(type="rect", xref="x", yref="paper", x0=stage_bounds[i], x1=stage_bounds[i + 1],
                       y0=PY(50), y1=PY(29), fillcolor=stage_colors[i], line=dict(color=INK, width=1.5), layer="above"))
    txt((stage_bounds[i] + stage_bounds[i + 1]) / 2, 40, nm, 21, xref="x")
shapes.append(dict(type="line", xref="x", yref="paper", x0=65.5, x1=65.5, y0=PY(50), y1=PY(8),
                   line=dict(color=INK, width=3), layer="above"))

# zero lines
shapes.append(dict(type="line", xref="paper", yref="y", x0=PX(180), x1=PX(1025), y0=0, y1=0,
                   line=dict(color=INK, width=2), layer="below"))
shapes.append(dict(type="line", xref="paper", yref="y4", x0=PX(180), x1=PX(1059), y0=0, y1=0,
                   line=dict(color="#2b2b3f", width=2), layer="below"))
shapes.append(dict(type="line", xref="paper", yref="y6", x0=PX(133), x1=PX(1057), y0=0, y1=0,
                   line=dict(color=INK, width=2), layer="above"))
shapes.append(dict(type="line", xref="paper", yref="y7", x0=PX(108), x1=PX(1057), y0=0, y1=0,
                   line=dict(color=INK, width=5), layer="above"))

# x ticks on the B and D zero lines
for t in xaxis_ticks:
    for ylab, yt0, yt1 in ((468, 480, 488), (1196, 1207, 1216)):
        shapes.append(dict(type="line", xref="x", yref="paper", x0=t, x1=t, y0=PY(yt1), y1=PY(yt0),
                           line=dict(color="#333", width=1.5), layer="below"))
        txt(t, ylab, str(t), 13, color="#7f7f7f", xref="x")

# panel letters
for lab, (lx, ly) in zip("ABCDE", [(172, 92), (170.5, 387), (170.5, 690), (170.5, 1002), (171, 1363)]):
    txt(lx, ly, lab, 25)

# axis titles
txt(47, 233, "Taxic diversity<br>(Number of species)", 21, angle=-90)
txt(166, 228, "Corrected with<br>phylogeny", 21, angle=-90)
txt(60, 478, "Mean \u03b4O<sup>18</sup>", 21, angle=-90)
txt(41, 771, "Mean temperatures<br>(Grossman &amp; Joachimski 2022)", 21, angle=-90)
txt(47, 1143, "Mean \u03b4O<sup>18</sup> proxy<br>for mean sea surface temperatures<br>(PhanSST global database)", 21, angle=-90)
txt(1112, 471, "\u03b4O<sup>18</sup> (Cramer <i>et al.</i> 2009)", 21, angle=-90)
txt(1105, 1125, "\u03b4O<sup>18</sup> proxy for mean sea surface<br>temperatures (PhanSST global database)", 15.5, angle=-90)
txt(1104, 1493, "Sea level (Miller <i>et al.</i> 2005)", 15.5, angle=-90)

# events
pline(635.6, 571.7, 635.6, 644, width=3.5)
txt(652.5, 617, "PETM", 19, angle=-90)
arrow = [(693.2, 568.3), (718.6, 606), (706.8, 606), (706.8, 642.7), (680.7, 642.7), (680.7, 606), (667.8, 606)]
path = "M " + " L ".join("%.5f,%.5f" % (PX(a), PY(b)) for a, b in arrow) + " Z"
shapes.append(dict(type="path", xref="paper", yref="paper", path=path, fillcolor=INK, line=dict(color=INK, width=1),
                   layer="above"))
txt(736, 617, "EECO", 19, angle=-90)
pline(921.4, 630, 921.4, 702.7, width=3.5)
txt(938, 673, "MECO", 19, angle=-90)

# ---- legend A ----
rect(743.3, 66.7, 1023.3, 229.7, "white", width=1.5)
txt(753, 87, "<b>Taxic diversity</b>", 21, anchor="left")
txt(753, 168, "<b>Corrected with phylogeny</b>", 21, anchor="left")
la = ["South American dyrosaurids", "African dyrosaurids", "Total diversity"]
for y, s in zip([112.7, 128.7, 144], la):
    txt(813, y, s, 14.5, anchor="left")
for y, s in zip([188, 204, 219.3], la):
    txt(813, y, s, 14.5, anchor="left")
pline(765, 112.7, 808, 112.7, color="#2e2d84", width=4.5)
circ(786.7, 112.7, 11, "#2b2a7c", "#111", 1)
pline(765, 128.7, 808, 128.7, color="#0b9444", width=4.5)
circ(786.7, 128.7, 11, "#0b9444", "#222", 1)
pline(765, 144, 808, 144, color=INK, width=4.5)
rect(783, 140.3, 790.4, 147.7, "#e3141b", "#333", 1)
pline(765, 188, 808, 188, color="#2e2d84", width=2, dash="dot")
circ(786.7, 188, 11, "#8fd0ef", "#333", 1)
pline(765, 204, 808, 204, color="#0b9444", width=2, dash="dot")
circ(786.7, 204, 11, "white", "#0b9444", 2, dash="dot")
pline(765, 219.3, 808, 219.3, color=INK, width=2, dash="dash")
rect(782, 214.6, 791.4, 224, "white", "#e3141b", 2)

# ---- legend B/C/D ----
rect(746.7, 848.3, 1027.3, 1001, "white", width=1.5)
lb = [(861.7, "\u03b4O<sup>18</sup> values"), (878, "Polynomial curve (6<sup>th</sup> order)"),
      (893.7, "Mean \u03b4O<sup>18</sup>"), (924.3, "Mean temperatures"), (954.3, "Sea surface temperature"),
      (971, "Mean sea surface temperatures"), (986.7, "Polynomial curve (6<sup>th</sup> order)")]
for y, s in lb:
    txt(810, y, s, 14.5, anchor="left")
circ(776.7, 861.7, 8, "white", "#f0873f", 2.5)
pline(755, 878, 798, 878, color="black", width=3.5, dash="dot")
pline(754, 893.7, 799, 893.7, color=INK, width=3.5)
circ(776.7, 893.7, 9, "#f7941d", INK, 1)
pline(754, 924.3, 799, 924.3, color="#e8141c", width=3.5, dash="dash")
circ(776.7, 924.3, 9, "#c8151b", INK, 1)
circ(776.7, 954.3, 11, "white", "#3f6cc4", 3)
pline(753, 971, 800, 971, color=INK, width=4)
circ(776.7, 971, 12, "#f7941d", INK, 1)
pline(755, 986.7, 798, 986.7, color="black", width=3.5, dash="dot")

# ---- legend E ----
rect(715.6, 1295.5, 1030.6, 1324.5, "white", width=1.5)
pline(721, 1310, 764, 1310, color="#2e2a86", width=3.5)
circ(741, 1310, 10, "#2e2a86", "#111", 1)
txt(769, 1310, "Sea level (Miller <i>et al.</i> 2005)", 20, anchor="left")

layout["shapes"] = shapes
layout["annotations"] = ann

fig = go.Figure(data=traces, layout=layout)
fig.write_html("out.html")
